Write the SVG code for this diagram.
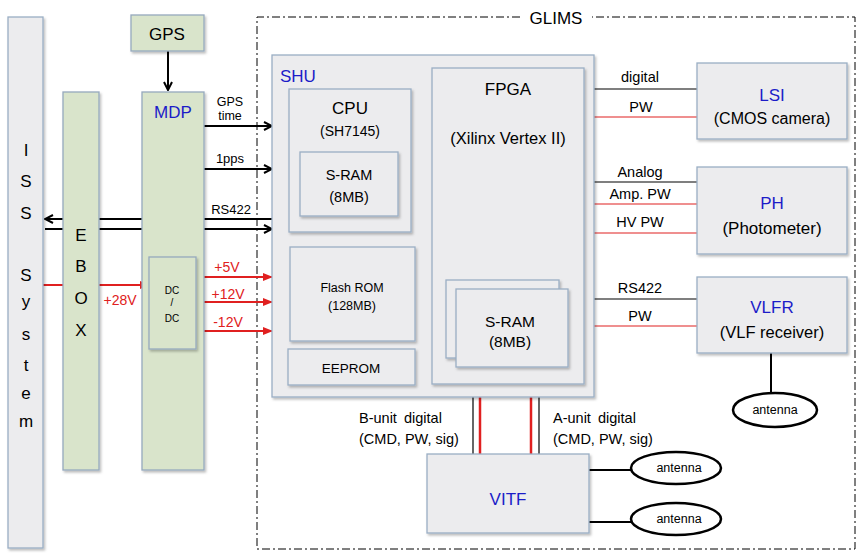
<svg xmlns="http://www.w3.org/2000/svg" width="862" height="555" viewBox="0 0 862 555">
<defs>
<filter id="sh" x="-10%" y="-10%" width="130%" height="130%">
<feDropShadow dx="1.5" dy="2" stdDeviation="1.2" flood-color="#000" flood-opacity="0.25"/>
</filter>
<marker id="ab" markerWidth="10" markerHeight="10" refX="9" refY="5" orient="auto" markerUnits="userSpaceOnUse">
<path d="M1,1 L9,5 L1,9" fill="none" stroke="#000" stroke-width="2"/>
</marker>
<marker id="ar" markerWidth="10" markerHeight="10" refX="9" refY="5" orient="auto" markerUnits="userSpaceOnUse">
<path d="M0,1 L10,5 L0,9 Z" fill="#e02020"/>
</marker>
</defs>
<style>
text{font-family:"Liberation Sans",Arial,sans-serif;fill:#000}
.g{fill:#ececee;stroke:#9aaec4;stroke-width:1.3;filter:url(#sh)}
.gr{fill:#d9e4cb;stroke:#95a9bd;stroke-width:1.3;filter:url(#sh)}
.blue{fill:#1c1cc8}
.red{fill:#e02020}
.bl{stroke:#000;stroke-width:2;fill:none}
.thin{stroke:#000;stroke-width:1.2;fill:none}
.rl{stroke:#e02020;stroke-width:1.2;fill:none}
.rt{stroke:#e02020;stroke-width:2;fill:none}
.rt3{stroke:#e02020;stroke-width:2.5;fill:none}
.ell{fill:#fff;stroke:#000;stroke-width:2.5}
</style>
<rect width="862" height="555" fill="#fff"/>

<!-- GLIMS boundary -->
<g id="glims">
<path d="M520,17 L257,17 L257,549 L855,549 L855,17 L592,17" fill="none" stroke="#000" stroke-width="1" stroke-dasharray="8,3,2,3"/>
<text x="556" y="24" font-size="17" text-anchor="middle">GLIMS</text>
</g>

<!-- connectors (drawn under boxes) -->
<g id="connectors">
<line x1="168" y1="51" x2="168" y2="90" class="bl" marker-end="url(#ab)"/>
<line x1="204" y1="126" x2="272" y2="126" class="bl" marker-end="url(#ab)"/>
<line x1="204" y1="169" x2="272" y2="169" class="bl" marker-end="url(#ab)"/>
<line x1="272" y1="219" x2="45" y2="219" class="bl" marker-end="url(#ab)"/>
<line x1="45" y1="229" x2="272" y2="229" class="bl" marker-end="url(#ab)"/>
<line x1="43" y1="285" x2="149" y2="285" class="rt" marker-end="url(#ar)"/>
<line x1="196" y1="277" x2="272" y2="277" class="rt" marker-end="url(#ar)"/>
<line x1="196" y1="302" x2="272" y2="302" class="rt" marker-end="url(#ar)"/>
<line x1="196" y1="331" x2="272" y2="331" class="rt" marker-end="url(#ar)"/>
<line x1="584" y1="89" x2="697" y2="89" class="thin"/>
<line x1="584" y1="117" x2="697" y2="117" class="rl"/>
<line x1="584" y1="182" x2="697" y2="182" class="thin"/>
<line x1="584" y1="204" x2="697" y2="204" class="rl"/>
<line x1="584" y1="233" x2="697" y2="233" class="rl"/>
<line x1="584" y1="299" x2="697" y2="299" class="thin"/>
<line x1="584" y1="326" x2="697" y2="326" class="rl"/>
<line x1="473" y1="384" x2="473" y2="454" class="thin"/>
<line x1="480" y1="384" x2="480" y2="454" class="rt3"/>
<line x1="531" y1="384" x2="531" y2="454" class="rt3"/>
<line x1="539" y1="384" x2="539" y2="454" class="thin"/>
<line x1="771" y1="353" x2="771" y2="393" class="bl" stroke-width="2.5"/>
<line x1="589" y1="470" x2="632" y2="470" class="bl"/>
<line x1="589" y1="522" x2="632" y2="522" class="bl"/>
</g>

<g id="iss">
<rect x="8" y="17" width="35" height="531" class="g" fill="#e3e3e6"/>
<g font-size="17" text-anchor="middle">
<text x="26" y="156">I</text>
<text x="26" y="187">S</text>
<text x="26" y="219">S</text>
<text x="26" y="281">S</text>
<text x="26" y="307">y</text>
<text x="26" y="340">s</text>
<text x="26" y="371">t</text>
<text x="26" y="399">e</text>
<text x="26" y="427">m</text>
</g>
</g>

<g id="ebox">
<rect x="63" y="92" width="36" height="378" class="gr"/>
<g font-size="17" text-anchor="middle">
<text x="81" y="241">E</text>
<text x="81" y="272">B</text>
<text x="81" y="304">O</text>
<text x="81" y="336">X</text>
</g>
</g>

<g id="gps">
<rect x="131" y="15" width="73" height="36" class="gr"/>
<text x="167" y="40" font-size="17" text-anchor="middle">GPS</text>
</g>

<g id="mdp">
<rect x="142" y="92" width="62" height="378" class="gr"/>
<text x="173" y="118" font-size="17" text-anchor="middle" class="blue">MDP</text>
</g>

<g id="dcdc">
<rect x="149" y="257" width="47" height="92" class="gr"/>
<g font-size="10" text-anchor="middle">
<text x="172" y="294">DC</text>
<text x="172" y="306">/</text>
<text x="172" y="322">DC</text>
</g>
</g>

<!-- left labels -->
<g id="left-labels" font-size="13">
<text x="230" y="106" font-size="12.5" text-anchor="middle">GPS</text>
<text x="230" y="120" font-size="12.5" text-anchor="middle">time</text>
<text x="230" y="163" text-anchor="middle">1pps</text>
<text x="231" y="214" text-anchor="middle">RS422</text>
<text x="120" y="305" font-size="14" text-anchor="middle" class="red">+28V</text>
<text x="227" y="272" font-size="14" text-anchor="middle" class="red">+5V</text>
<text x="228" y="299" font-size="14" text-anchor="middle" class="red">+12V</text>
<text x="228" y="327" font-size="14" text-anchor="middle" class="red">-12V</text>
</g>

<g id="shu">
<rect x="272" y="55" width="322" height="342" class="g"/>
<text x="280" y="82" font-size="17" class="blue">SHU</text>
</g>

<g id="cpu">
<rect x="289" y="89" width="122" height="143" class="g"/>
<text x="350" y="114" font-size="17" text-anchor="middle">CPU</text>
<text x="350" y="136" font-size="14" text-anchor="middle">(SH7145)</text>
</g>

<g id="cpu-sram">
<rect x="300" y="152" width="98" height="64" class="g"/>
<text x="349" y="180" font-size="14.5" text-anchor="middle">S-RAM</text>
<text x="349" y="202" font-size="14.5" text-anchor="middle">(8MB)</text>
</g>

<g id="flash">
<rect x="290" y="247" width="125" height="94" class="g"/>
<text x="352" y="292" font-size="12.5" text-anchor="middle">Flash ROM</text>
<text x="352" y="310" font-size="12.5" text-anchor="middle">(128MB)</text>
</g>

<g id="eeprom">
<rect x="288" y="349" width="127" height="36" class="g"/>
<text x="351" y="373" font-size="13.5" text-anchor="middle">EEPROM</text>
</g>

<g id="fpga">
<rect x="432" y="68" width="152" height="316" class="g"/>
<text x="508" y="95" font-size="17" text-anchor="middle">FPGA</text>
<text x="508" y="144" font-size="16.5" text-anchor="middle">(Xilinx Vertex II)</text>
</g>

<g id="fpga-sram">
<rect x="446" y="280" width="113" height="78" class="g"/>
<rect x="456" y="289" width="112" height="78" class="g"/>
<text x="510" y="327" font-size="15.5" text-anchor="middle">S-RAM</text>
<text x="510" y="347" font-size="15.5" text-anchor="middle">(8MB)</text>
</g>

<g id="lsi">
<rect x="697" y="63" width="150" height="76" class="g"/>
<text x="772" y="101" font-size="17" text-anchor="middle" class="blue">LSI</text>
<text x="772" y="124" font-size="16" text-anchor="middle">(CMOS camera)</text>
</g>

<g id="ph">
<rect x="697" y="167" width="150" height="87" class="g"/>
<text x="772" y="209" font-size="17" text-anchor="middle" class="blue">PH</text>
<text x="772" y="234" font-size="17" text-anchor="middle">(Photometer)</text>
</g>

<g id="vlfr">
<rect x="697" y="277" width="150" height="76" class="g"/>
<text x="772" y="313" font-size="17" text-anchor="middle" class="blue">VLFR</text>
<text x="772" y="338" font-size="16.5" text-anchor="middle">(VLF receiver)</text>
</g>

<g id="right-labels" font-size="14.5" text-anchor="middle">
<text x="640" y="82">digital</text>
<text x="641" y="112">PW</text>
<text x="640" y="177">Analog</text>
<text x="640" y="199">Amp. PW</text>
<text x="640" y="227">HV PW</text>
<text x="640" y="293">RS422</text>
<text x="640" y="321">PW</text>
</g>

<g id="antenna-vlfr">
<ellipse cx="775" cy="410" rx="42" ry="17" class="ell"/>
<text x="775" y="414" font-size="12.5" text-anchor="middle">antenna</text>
</g>

<g id="vitf">
<rect x="427" y="454" width="162" height="79" class="g"/>
<text x="508" y="505" font-size="17" text-anchor="middle" class="blue">VITF</text>
</g>

<g id="antenna1">
<ellipse cx="676" cy="468" rx="45" ry="16" class="ell"/>
<text x="679" y="472" font-size="12.5" text-anchor="middle">antenna</text>
</g>
<g id="antenna2">
<ellipse cx="676" cy="519" rx="45" ry="16" class="ell"/>
<text x="679" y="523" font-size="12.5" text-anchor="middle">antenna</text>
</g>

<g id="bottom-labels" font-size="14.5">
<text x="359" y="423">B-unit <tspan x="404">digital</tspan></text>
<text x="359" y="444">(CMD, PW, sig)</text>
<text x="553" y="423">A-unit <tspan x="598">digital</tspan></text>
<text x="553" y="444">(CMD, PW, sig)</text>
</g>
</svg>
